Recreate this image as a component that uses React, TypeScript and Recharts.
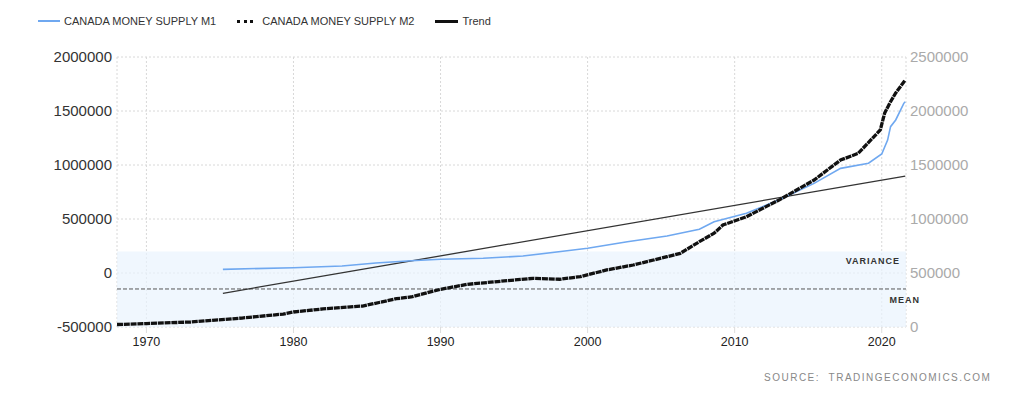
import React from 'react';
import {
  ComposedChart, Line, XAxis, YAxis, CartesianGrid, ReferenceArea, ReferenceLine, Label,
} from 'recharts';

const m1Years = [1975.2, 1980, 1983.3, 1985.6, 1988, 1990, 1992.9, 1995.6, 1998.6, 2000, 2002.7, 2005.4, 2007.6, 2008.6, 2010.8, 2013.1, 2015.4, 2017.2, 2019.1, 2020, 2020.4, 2020.6, 2020.95, 2021.5, 2021.6];
const m1Values = [34000, 49000, 65000, 93000, 114000, 127000, 136000, 157000, 206000, 229000, 290000, 343000, 405000, 475000, 553000, 682000, 830000, 969000, 1016000, 1102000, 1231000, 1355000, 1417000, 1571000, 1586000];

const m2Years = [1968, 1970, 1973, 1976.5, 1979.3, 1980, 1982, 1984.7, 1987, 1988, 1990, 1991.8, 1996.3, 1998.1, 1999.5, 2001.3, 2003.1, 2005.4, 2006.3, 2007.6, 2008.6, 2009.2, 2010.8, 2013.1, 2015.4, 2017.2, 2018.4, 2019.9, 2020.2, 2020.6, 2020.95, 2021.6];
const m2Values = [23000, 32000, 46000, 83000, 120000, 139000, 167000, 194000, 262000, 278000, 349000, 395000, 451000, 442000, 466000, 528000, 574000, 651000, 682000, 790000, 868000, 944000, 1021000, 1182000, 1361000, 1546000, 1608000, 1824000, 1981000, 2086000, 2167000, 2287000];

const trendYears = [1975.2, 2021.6];
const trendValues = [-188000, 898000];

const xTicks = [1970, 1980, 1990, 2000, 2010, 2020];
const leftTicks = [-500000, 0, 500000, 1000000, 1500000, 2000000];
const rightTicks = [0, 500000, 1000000, 1500000, 2000000, 2500000];

const varianceTop = 200000;
const meanValue = -148000;

const m1Data = m1Years.map((x, i) => ({ x, v: m1Values[i] }));
const m2Data = m2Years.map((x, i) => ({ x, v: m2Values[i] }));
const trendData = trendYears.map((x, i) => ({ x, v: trendValues[i] }));

const font = '"Liberation Sans", Arial, sans-serif';

export default function App() {
  return (
    <div style={{ position: 'absolute', left: 0, top: 0, width: 1024, height: 396, background: '#fff', fontFamily: font }}>
      <div style={{ position: 'absolute', left: 38, top: 15, display: 'flex', alignItems: 'center', fontSize: 11, color: '#333', whiteSpace: 'nowrap' }}>
        <span style={{ display: 'inline-block', width: 22, height: 0, borderTop: '2px solid #6fa8f0', marginRight: 4 }} />
        <span style={{ marginRight: 21 }}>CANADA MONEY SUPPLY M1</span>
        <span style={{ display: 'inline-block', width: 16, height: 0, borderTop: '3px dotted #111', marginRight: 9 }} />
        <span style={{ marginRight: 21 }}>CANADA MONEY SUPPLY M2</span>
        <span style={{ display: 'inline-block', width: 23, height: 0, borderTop: '3px solid #111', marginRight: 4 }} />
        <span>Trend</span>
      </div>
      <ComposedChart width={1024} height={396} margin={{ top: 57, right: 0, bottom: 0, left: 0 }}>
        <CartesianGrid stroke="#d8d8d8" strokeDasharray="2 2" yAxisId="left" />
        <XAxis
          dataKey="x"
          type="number"
          domain={[1968, 2021.65]}
          ticks={xTicks}
          allowDataOverflow
          height={69}
          axisLine={false}
          tickLine={{ stroke: '#ddd' }}
          tickSize={6}
          tickMargin={4}
          tick={{ fill: '#222', fontSize: 12.5, fontFamily: font }}
        />
        <YAxis
          yAxisId="left"
          orientation="left"
          type="number"
          domain={[-500000, 2000000]}
          ticks={leftTicks}
          width={117}
          axisLine={false}
          tickLine={false}
          tickSize={0}
          tickMargin={5}
          tick={{ fill: '#333', fontSize: 15, fontFamily: font }}
        />
        <YAxis
          yAxisId="right"
          orientation="right"
          type="number"
          domain={[0, 2500000]}
          ticks={rightTicks}
          width={118}
          axisLine={false}
          tickLine={false}
          tickSize={0}
          tickMargin={4}
          tick={{ fill: '#aaa', fontSize: 15, fontFamily: font }}
        />
        <ReferenceArea yAxisId="left" y1={-500000} y2={varianceTop} fill="#eaf4fd" fillOpacity={0.7} stroke="none">
          <Label value="VARIANCE" position="insideTopRight" offset={6} style={{ fontSize: 9, fill: '#333', letterSpacing: 1, fontWeight: 'bold', fontFamily: font }} />
        </ReferenceArea>
        <ReferenceLine yAxisId="left" y={meanValue} stroke="#555" strokeDasharray="4 2" strokeWidth={1}>
          <Label value="MEAN" position="insideBottomRight" offset={-14} style={{ fontSize: 9, fill: '#333', letterSpacing: 1, fontWeight: 'bold', fontFamily: font }} />
        </ReferenceLine>
        <Line yAxisId="left" data={trendData} dataKey="v" stroke="#333" strokeWidth={1.3} dot={false} isAnimationActive={false} />
        <Line yAxisId="left" data={m1Data} dataKey="v" stroke="#6fa8f0" strokeWidth={1.6} dot={false} isAnimationActive={false} />
        <Line yAxisId="right" data={m2Data} dataKey="v" stroke="#111" strokeWidth={3.3} strokeDasharray="6 0.8" dot={false} isAnimationActive={false} />
      </ComposedChart>
      <div style={{ position: 'absolute', left: 764, top: 372, fontSize: 10, color: '#888', letterSpacing: 1.5, whiteSpace: 'nowrap' }}>
        SOURCE:&nbsp;&nbsp;TRADINGECONOMICS.COM
      </div>
    </div>
  );
}
